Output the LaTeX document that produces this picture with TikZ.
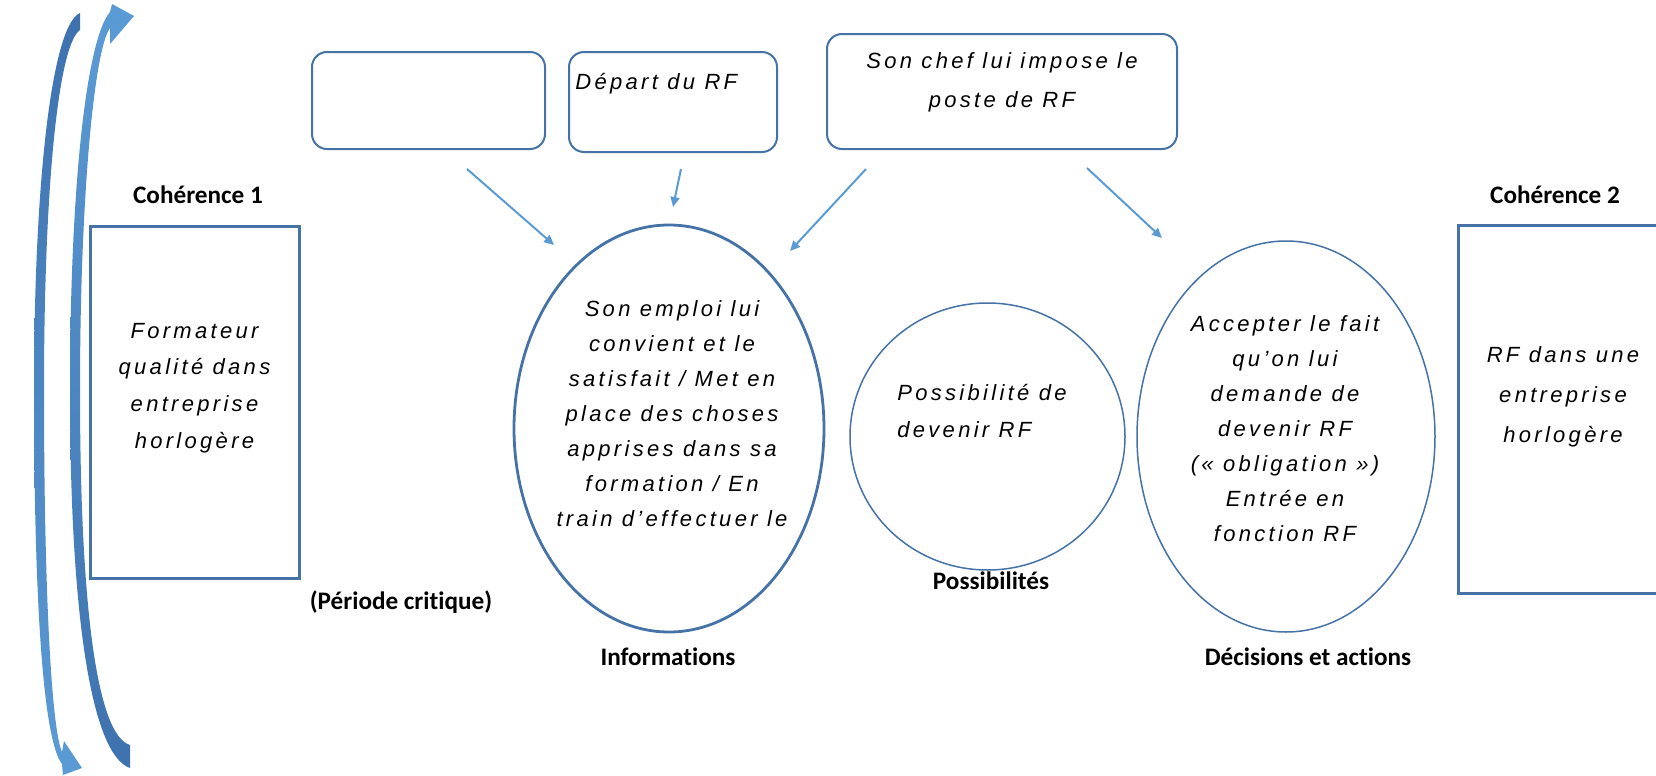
\documentclass[tikz,border=0pt]{standalone}
\usepackage{fontspec}
\usetikzlibrary{shapes.geometric,arrows.meta}
\newfontfamily\handfont{Liberation Sans}[LetterSpace=15]
\newfontfamily\labelfont{Carlito}[Ligatures=NoCommon]
\definecolor{frameblue}{HTML}{4572A7}
\definecolor{linkblue}{HTML}{5B9BD5}
\definecolor{arrowdark}{HTML}{3E72AF}
\definecolor{arrowlight}{HTML}{5B9BD5}
\tikzset{
  hand/.style={font=\handfont\itshape\fontsize{11}{#1}\selectfont, align=center, inner sep=0pt},
  hand/.default=17.5,
  caption/.style={font=\labelfont\bfseries\fontsize{12.6}{15}\selectfont, inner sep=0pt},
  frame/.style={draw=frameblue, line width=1.5pt, minimum width=104.5pt, inner sep=0pt},
  card/.style={draw=frameblue, line width=1pt, rounded corners=7.5pt, inner sep=0pt},
  oval/.style={draw=frameblue, ellipse, inner sep=0pt},
  link/.style={draw=linkblue, line width=1pt, -{Triangle[length=5pt,width=4.5pt]}},
}
\begin{document}
\begin{tikzpicture}[x=0.5pt,y=-0.5pt]
\useasboundingbox (0,0) rectangle (1656,776);

% circular feedback arrows on the left
\shade[top color=arrowdark, bottom color=arrowlight]
  (80,13) .. controls (52,25) and (34,180) .. (34,390)
  .. controls (34,600) and (43,740) .. (62,764)
  -- (63,775) -- (82,768) -- (64,741) -- (62,752)
  .. controls (52,730) and (44,600) .. (44,390)
  .. controls (44,190) and (58,45) .. (80,30) -- cycle;
\shade[top color=arrowlight, bottom color=arrowdark]
  (130,768) .. controls (92,755) and (70,620) .. (70,390)
  .. controls (70,190) and (86,40) .. (110,12)
  -- (112,4) -- (134,16) -- (110,44) -- (110,28)
  .. controls (94,50) and (80,200) .. (80,390)
  .. controls (80,600) and (96,735) .. (130,745) -- cycle;

% coherence frames
\node[caption] (coh1lab) at (198,195) {Cohérence 1};
\node[frame, minimum height=176pt] (coh1) at (194.5,402) {};
\node[hand=18.3] (coh1txt) at (194.5,388) {Formateur\\qualité dans\\entreprise\\horlogère};

\node[caption] (coh2lab) at (1555,195) {Cohérence 2};
\node[frame, minimum height=184pt] (coh2) at (1563,409) {};
\node[hand=20] (coh2txt) at (1563,397) {RF dans une\\entreprise\\horlogère};

% triggering events
\node[card, minimum width=116.5pt, minimum height=48.5pt] (src1) at (428.5,100.5) {};
\node[card, minimum width=104pt, minimum height=50pt] (src2) at (673,102) {};
\node[hand, anchor=west] (src2txt) at (575,84) {Départ du RF};
\node[card, minimum width=175pt, minimum height=57.5pt] (src3) at (1002,91.5) {};
\node[hand=19.5] (src3txt) at (1002,82.5) {Son chef lui impose le\\poste de RF};

% stages
\node[oval, line width=1.4pt, minimum width=155pt, minimum height=203.5pt] (info) at (669,428.5) {};
\node[hand=17.5] (infotxt) at (672,414) {Son emploi lui\\convient et le\\satisfait / Met en\\place des choses\\apprises dans sa\\formation / En\\train d’effectuer le};
\node[caption] (infolab) at (668,657) {Informations};

\node[oval, line width=0.75pt, minimum width=137.5pt, minimum height=133.5pt] (poss) at (987.5,436.5) {};
\node[hand=18.5, align=left, anchor=west] (posstxt) at (897,411.5) {Possibilité de\\devenir RF};
\node[caption] (posslab) at (991,581) {Possibilités};

\node[oval, line width=0.75pt, minimum width=149pt, minimum height=195.5pt] (deci) at (1286,436.5) {};
\node[hand=17.5] (decitxt) at (1285,429) {Accepter le fait\\qu’on lui\\demande de\\devenir RF\\(« obligation »)\\Entrée en\\fonction RF};
\node[caption] (decilab) at (1308,657) {Décisions et actions};

\node[caption] (crit) at (401,602) {(Période critique)};

% connectors
\coordinate (l1a) at (467,169);  \coordinate (l1b) at (554,245);
\coordinate (l2a) at (681,169);  \coordinate (l2b) at (673,207);
\coordinate (l3a) at (866,169);  \coordinate (l3b) at (790,251);
\coordinate (l4a) at (1087,168); \coordinate (l4b) at (1162,238);
\draw[link] (l1a) -- (l1b);
\draw[link] (l2a) -- (l2b);
\draw[link] (l3a) -- (l3b);
\draw[link] (l4a) -- (l4b);
\end{tikzpicture}
\end{document}
